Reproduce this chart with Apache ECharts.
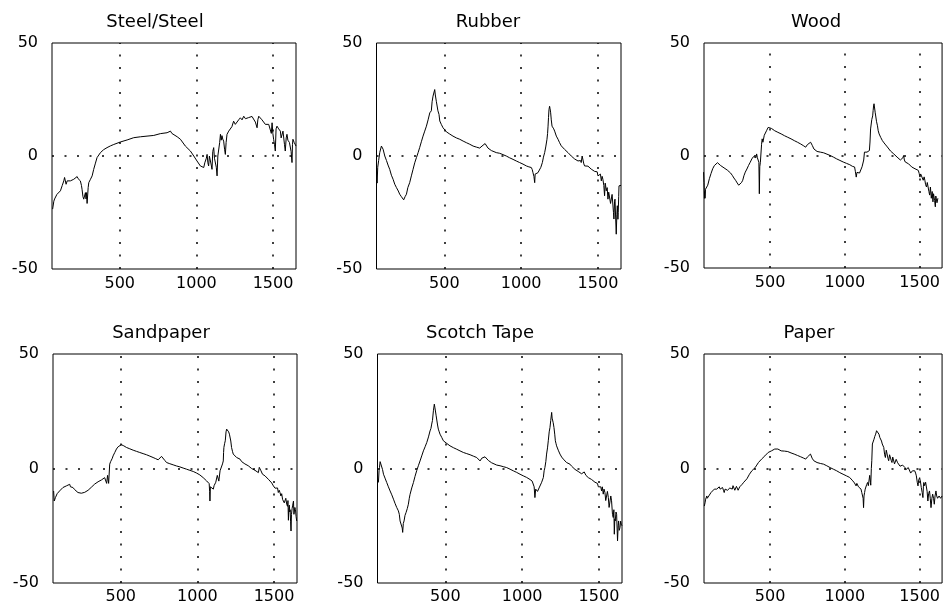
<!DOCTYPE html>
<html>
<head>
<meta charset="utf-8">
<script src="https://cdn.jsdelivr.net/npm/echarts@6/dist/echarts.min.js"></script>
<style>
html,body{margin:0;padding:0;background:#fff;}
#chart{width:943px;height:614px;}
</style>
</head>
<body>
<div id="chart"></div>
<script>
// ---- data (x = sample index, y = value) ----
const panelTitles = ["Steel/Steel", "Rubber", "Wood", "Sandpaper", "Scotch Tape", "Paper"];
const xTickLabels = [500, 1000, 1500];
const yTickLabels = [-50, 0, 50];
const xRange = [58, 1650];
const yRange = [-50, 50];

const steel = [[62,-23.5],[66,-24],[70,-20],[75,-19],[80,-18.4],[90,-17],[100,-16.5],[113,-15.4],[125,-13],[135,-11],[140,-9.5],[146,-8.8],[150,-12.5],[153,-13.2],[157,-11],[165,-11.5],[178,-11],[190,-10.5],[200,-10.3],[212,-9.5],[222,-9.1],[228,-10],[233,-10.3],[243,-11],[250,-13],[254,-14.7],[260,-18],[265,-19.1],[270,-19.9],[276,-16.2],[280,-19],[283,-16.2],[287,-21],[291,-20.6],[294,-14],[298,-11.8],[309,-10.3],[320,-8.8],[330,-5.9],[340,-3.5],[352,-0.7],[374,1.5],[395,2.8],[417,3.7],[440,4.5],[461,5.1],[504,6.2],[548,7.1],[591,8.1],[635,8.5],[678,8.8],[722,9.1],[765,9.9],[809,10.3],[820,10],[831,11],[840,10],[852,10],[875,8.5],[896,7.4],[928,4.4],[961,2.2],[983,0],[1004,-2.2],[1026,-4.4],[1048,-5.1],[1055,-3],[1059,-2.9],[1065,-1],[1070,0.7],[1075,-3],[1080,-4.4],[1085,0],[1091,0.7],[1097,-4],[1102,-5.9],[1107,2],[1113,3.7],[1118,-1],[1124,-0.7],[1130,-5],[1135,-8.8],[1140,0],[1146,0.7],[1152,6],[1157,9.6],[1162,7],[1167,9],[1172,7.5],[1178,6.6],[1184,3],[1189,0.7],[1194,6],[1200,9.6],[1211,11],[1222,11],[1232,13],[1243,15.4],[1254,14],[1265,14.7],[1276,16],[1287,16.9],[1298,16],[1309,17.6],[1320,16.5],[1330,16.5],[1341,17],[1352,16.9],[1363,17.5],[1374,17.6],[1385,15],[1396,12.5],[1401,16],[1407,17.6],[1417,16.9],[1428,16],[1439,15.4],[1450,14],[1461,14.7],[1472,14],[1483,13.2],[1489,10],[1494,14.7],[1499,10],[1504,7.4],[1510,5],[1515,2.2],[1520,12],[1526,13.2],[1537,12],[1548,11],[1553,8],[1559,7.4],[1565,11],[1570,10.3],[1575,5],[1580,2.2],[1586,8],[1591,9.6],[1597,7],[1602,7.4],[1607,6],[1613,5.9],[1618,2],[1624,-2.9],[1627,5],[1630,7.4],[1638,6],[1646,5.9],[1650,4.4]];

const rubber = [[57,-7.4],[62,-12],[66,-5],[72,-2],[79,1.5],[90,4.4],[95,4.4],[101,3],[112,0],[123,-2],[133,-4],[144,-5.9],[155,-8.5],[166,-10.3],[177,-12.5],[188,-14],[200,-15.5],[209,-16.9],[220,-18],[235,-19.4],[244,-18],[253,-16.9],[262,-14],[274,-11.8],[285,-8.8],[296,-5.9],[307,-3],[318,-0.7],[329,1.5],[339,3.7],[350,6.3],[361,8.8],[372,11],[383,13.2],[394,16],[405,19.1],[410,19.5],[415,20],[420,24],[426,26.5],[432,27],[437,29.4],[441,27],[444,26.5],[448,24],[452,23.5],[458,20],[465,18.4],[470,15.5],[480,14],[491,12.5],[513,10.7],[535,9.7],[556,8.8],[578,8],[600,7.4],[622,6.6],[643,5.9],[665,5.2],[687,4.4],[710,3.9],[730,3.5],[745,4.4],[752,4.7],[765,5.5],[773,5.1],[784,3.5],[795,3],[806,2.4],[817,1.9],[838,1.5],[860,1.2],[882,0.6],[903,0],[925,-0.8],[947,-1.5],[968,-2.2],[990,-2.9],[1012,-3.6],[1034,-4.4],[1050,-4.8],[1066,-5.1],[1072,-6],[1077,-7.4],[1083,-9],[1088,-11.8],[1091,-8],[1094,-8.1],[1100,-7.5],[1109,-7.4],[1120,-6.6],[1128,-5],[1138,-2.9],[1145,-0.5],[1153,1.5],[1160,4],[1168,7.4],[1172,10],[1175,13.2],[1178,17],[1181,20.5],[1185,22],[1188,21],[1192,19.1],[1196,16],[1201,13.2],[1207,12.5],[1212,12],[1218,11],[1229,8.8],[1240,7.4],[1250,5.9],[1261,4.5],[1272,3.7],[1283,2.9],[1294,2.2],[1305,1.5],[1316,0.7],[1326,0],[1337,-0.7],[1348,-1.3],[1359,-1.8],[1370,-2.2],[1380,-2.6],[1386,-2],[1391,-2.9],[1397,0],[1402,-0.3],[1408,-3.5],[1413,-4.4],[1424,-3.7],[1435,-4.5],[1446,-5.1],[1456,-5.8],[1467,-6.6],[1478,-6.8],[1489,-7.4],[1495,-7],[1500,-8.8],[1506,-8],[1511,-9.6],[1516,-8],[1522,-11],[1527,-9],[1532,-10.3],[1538,-13],[1543,-17.6],[1547,-12],[1550,-13.2],[1554,-15.4],[1560,-14],[1565,-19.1],[1570,-16],[1576,-16.2],[1582,-21],[1587,-20.6],[1592,-17],[1597,-17.6],[1601,-25],[1604,-27.9],[1608,-20],[1611,-19.1],[1615,-27],[1619,-34.6],[1623,-26],[1626,-22],[1630,-28],[1632,-25],[1635,-18],[1637,-13.2],[1642,-14],[1645,-13.2],[1650,-13]];

const wood = [[55,-7.4],[58,-12],[61,-19],[63,-16],[65,-19],[68,-15],[72,-14.7],[83,-13.2],[94,-10.3],[105,-8],[116,-5.9],[127,-4.5],[138,-3.7],[148,-3.2],[159,-3.2],[170,-4.5],[181,-5.1],[192,-5.5],[203,-6],[214,-6.5],[225,-7],[236,-7.8],[247,-8.8],[258,-10],[269,-11],[280,-12.2],[290,-13.2],[301,-14],[309,-12],[317,-11],[325,-9],[334,-7.4],[345,-6],[356,-4.4],[367,-3],[378,-1.5],[389,-0.5],[400,0],[405,-1],[410,0.7],[415,-1],[421,-0.7],[425,-3],[428,-17],[431,-5],[435,-3],[440,-3],[443,5],[447,7.4],[452,5.9],[456,5.9],[461,9],[465,9.6],[476,11],[487,12.5],[498,12.5],[510,12],[531,11],[552,10.3],[574,9.6],[596,8.8],[618,8.1],[640,7.4],[662,6.6],[683,5.9],[705,5.1],[722,4.4],[738,3.7],[749,4.8],[760,5.6],[771,5.9],[782,4.5],[793,2.9],[814,1.8],[836,1.5],[858,1.2],[880,0.6],[902,0],[923,-0.7],[945,-1.5],[967,-2.2],[989,-2.9],[1011,-3.5],[1033,-4.1],[1050,-4.8],[1065,-5.1],[1070,-7],[1076,-9.6],[1081,-7.5],[1087,-8],[1098,-7.8],[1109,-7.4],[1115,-5],[1120,-4.4],[1126,-2],[1131,1.5],[1137,2],[1142,0.7],[1148,1.5],[1153,1.5],[1158,2.2],[1164,2.2],[1168,6],[1172,11.8],[1175,12],[1180,16],[1186,17.6],[1189,20],[1192,22],[1195,23],[1199,22.8],[1203,19],[1207,18.4],[1212,15],[1218,13.2],[1223,11],[1229,9.6],[1240,8],[1251,6.6],[1262,5.6],[1273,4.7],[1284,3.8],[1295,3.2],[1305,2],[1316,1.5],[1327,0.7],[1338,0],[1349,-0.7],[1360,-1.5],[1371,-2],[1382,-2.6],[1388,-1],[1393,0],[1398,-2],[1404,-2.9],[1415,-3.3],[1426,-3.7],[1436,-4.4],[1447,-5.1],[1458,-5.5],[1469,-5.9],[1480,-6.2],[1491,-6.6],[1497,-8],[1502,-9.6],[1507,-8.2],[1513,-8.8],[1518,-10],[1524,-11],[1530,-9.5],[1535,-11],[1540,-13],[1546,-14],[1551,-12],[1557,-12.5],[1562,-16],[1567,-17.6],[1572,-14],[1578,-19],[1584,-16],[1589,-20.6],[1593,-17],[1596,-16.2],[1600,-20],[1605,-22.8],[1608,-18],[1611,-19],[1616,-21],[1622,-19]];

const sandpaper = [[62,-9.8],[66,-14.2],[69,-14.2],[74,-12.7],[79,-12],[85,-11],[90,-10.5],[101,-9.8],[112,-9],[123,-8.3],[134,-7.8],[145,-7.6],[156,-7],[167,-6.9],[172,-8],[178,-7.5],[188,-8.3],[199,-9.2],[210,-10],[221,-10.5],[232,-10.8],[243,-10.8],[254,-10.5],[265,-10.4],[276,-10.2],[287,-9.5],[297,-9],[308,-8.2],[319,-7.6],[330,-6.8],[341,-6.1],[352,-5.8],[363,-5.4],[374,-5],[385,-4.7],[395,-4],[402,-4],[408,-6.5],[411,-6.1],[414,-3],[417,-2.5],[421,-6.5],[424,-7],[428,1.9],[434,3],[439,3.5],[445,4.5],[450,5.5],[461,7],[472,8.5],[483,9.5],[493,9.9],[504,10.4],[520,9.9],[537,9.2],[559,8.6],[581,8],[602,7.5],[624,7],[646,6.5],[668,6],[690,5.4],[711,4.8],[728,4.3],[744,3.8],[755,4.5],[766,5.3],[777,4.8],[788,3.5],[799,2.6],[820,2.1],[842,1.6],[864,1.1],[886,0.7],[907,0.2],[929,-0.3],[951,-0.8],[973,-1.3],[995,-2],[1016,-2.8],[1038,-4],[1060,-5.4],[1070,-6],[1077,-6.6],[1080,-10],[1082,-14.2],[1085,-8],[1088,-7.6],[1096,-8.5],[1104,-9],[1109,-7.5],[1114,-7.6],[1120,-6],[1125,-6.1],[1130,-3],[1136,-2.5],[1140,-5.5],[1143,-5.4],[1148,-1],[1152,-0.3],[1158,-1],[1164,2],[1169,3.3],[1171,7],[1173,9.2],[1178,11],[1182,12.1],[1187,16],[1191,17.2],[1197,18],[1204,16],[1209,15],[1213,15.3],[1218,12],[1223,9.2],[1229,7.5],[1234,6.3],[1245,5.5],[1256,4.8],[1267,4.3],[1278,4.1],[1289,3],[1300,2.6],[1310,2],[1321,1.9],[1332,1.2],[1343,0.5],[1354,0],[1365,-0.3],[1376,-0.8],[1387,-1.4],[1398,-1.8],[1404,0.5],[1409,0.7],[1415,-1],[1420,-1],[1425,-2.5],[1430,-2.5],[1441,-3.2],[1452,-3.9],[1463,-4.7],[1474,-5.4],[1485,-6.3],[1496,-7.6],[1502,-7],[1507,-8.6],[1513,-8],[1518,-9.1],[1523,-8.5],[1528,-10.5],[1534,-9.5],[1539,-10.5],[1545,-12],[1550,-11],[1556,-13.5],[1561,-12.7],[1567,-15],[1572,-14.2],[1577,-13],[1583,-15.6],[1588,-16.5],[1591,-14],[1594,-22.6],[1597,-17],[1600,-16],[1603,-19],[1605,-18],[1608,-23],[1611,-27.3],[1614,-20],[1618,-17.5],[1622,-16],[1627,-14.2],[1630,-20],[1633,-20],[1636,-17],[1640,-17.9],[1644,-21],[1648,-22.9]];

const scotchTape = [[64,-6.1],[68,-1],[71,0.4],[75,3],[79,3.4],[85,2.6],[91,-0.5],[97,-2.5],[107,-4.2],[118,-6.1],[129,-8],[140,-9.8],[151,-11.5],[162,-13.4],[172,-15.2],[183,-17],[190,-17.5],[194,-18.5],[200,-20],[205,-22.9],[211,-23],[216,-23.5],[219,-26],[222,-27.9],[226,-24],[231,-22.9],[237,-20.5],[244,-19.2],[252,-17.5],[259,-15.6],[265,-13],[270,-11.3],[281,-8.5],[292,-6.1],[302,-3.5],[313,-1],[324,1.2],[335,3.3],[346,5.5],[357,7.7],[368,9.5],[379,11.4],[390,13.8],[400,16.4],[406,17.5],[411,19.4],[416,21],[422,25.2],[428,28.1],[432,26.5],[435,26.5],[440,23],[444,22.3],[449,19],[454,17.2],[460,16],[465,15],[476,13.6],[487,12.1],[508,11],[530,9.9],[552,9.1],[574,8.4],[595,7.7],[617,7],[639,6.5],[661,6],[682,5.4],[704,4.8],[715,4],[726,3.3],[737,4.5],[747,4.6],[758,5.1],[769,5.1],[780,3.5],[791,3.3],[801,2.5],[812,1.9],[834,1.5],[856,1.2],[877,0.8],[899,0.4],[921,-0.3],[942,-1],[964,-1.7],[986,-2.5],[1007,-3.2],[1029,-3.9],[1051,-4.8],[1065,-5.5],[1073,-6.1],[1078,-8],[1083,-12.7],[1088,-9],[1094,-8.3],[1100,-10],[1105,-9.8],[1110,-8.5],[1116,-8.3],[1127,-6],[1138,-3.9],[1143,-1],[1148,0.4],[1154,3],[1159,6.3],[1165,9],[1170,12.1],[1176,16],[1181,17.9],[1186,21],[1192,24.5],[1195,22],[1198,22.3],[1202,20],[1207,17.9],[1212,15],[1216,12.1],[1220,11],[1224,9.9],[1235,8],[1246,6.3],[1257,5],[1268,4.1],[1278,3.3],[1289,2.6],[1300,2],[1311,1.9],[1322,1],[1333,0.4],[1344,-0.4],[1355,-1],[1365,-1.3],[1376,-1.7],[1387,-2.3],[1398,-2.5],[1404,-1.5],[1409,-1],[1415,-3],[1420,-3.2],[1431,-4],[1441,-4.7],[1452,-4.8],[1463,-5.4],[1474,-6],[1480,-5.5],[1485,-6.8],[1490,-6.5],[1496,-8],[1501,-7.5],[1506,-8.3],[1512,-8],[1517,-9.8],[1522,-8],[1528,-11.2],[1533,-9],[1539,-10.5],[1544,-14],[1550,-14.1],[1555,-10],[1561,-12.7],[1566,-17],[1572,-16.9],[1577,-12],[1582,-14.1],[1588,-20],[1593,-21.4],[1597,-18],[1600,-28.7],[1603,-22],[1606,-22.9],[1611,-19],[1615,-20],[1618,-26],[1621,-31.6],[1625,-25],[1628,-22.9],[1632,-27],[1637,-25.8],[1641,-23],[1645,-24.3],[1650,-25]];

const paper = [[60,-16.4],[65,-15],[69,-13.4],[73,-13],[77,-12],[80,-13],[84,-13.4],[90,-12],[95,-11.2],[105,-10.5],[116,-9.8],[127,-9],[138,-8.3],[143,-9],[149,-9.8],[155,-8.5],[160,-8],[166,-9],[171,-9],[177,-8.2],[182,-8.3],[188,-9.5],[193,-10.5],[199,-9],[204,-9],[215,-9.5],[225,-9.8],[231,-8.5],[236,-8.3],[242,-9],[247,-9],[252,-7.5],[258,-7.6],[264,-9.5],[269,-9.8],[275,-7.8],[280,-7.6],[286,-9.5],[291,-10.1],[297,-8],[302,-7.6],[313,-6.9],[324,-6],[334,-5.4],[345,-4.5],[356,-3.9],[362,-2.5],[367,-1.8],[378,-1],[389,-0.3],[400,0.4],[411,1.5],[422,2.6],[433,3.4],[443,4.1],[454,4.8],[465,5.5],[476,6.2],[487,7],[498,7.4],[509,7.7],[520,8.1],[531,8.5],[541,9.2],[552,8.5],[563,8],[574,7.7],[596,7.6],[618,7.4],[640,6.8],[661,6.3],[683,5.7],[705,5.1],[722,4.6],[738,4.1],[749,5],[759,5.5],[770,6.3],[781,4.5],[792,3.4],[803,2.9],[814,2.6],[836,2.2],[857,1.9],[879,1.2],[901,0.4],[923,-0.3],[945,-1],[966,-1.8],[988,-2.5],[1010,-3.2],[1032,-3.9],[1042,-4.5],[1053,-5.4],[1064,-6.3],[1075,-7.6],[1080,-6.5],[1086,-6.1],[1091,-8],[1097,-8.3],[1102,-7.5],[1108,-9],[1113,-10.5],[1119,-11.2],[1122,-13],[1125,-17.1],[1128,-12],[1132,-10.5],[1136,-9],[1141,-8.3],[1146,-7],[1152,-6.1],[1157,-7.5],[1162,-6.9],[1166,-3],[1169,-2.5],[1171,-6],[1173,-7.3],[1177,0],[1180,3.4],[1184,10.7],[1190,11.5],[1195,12.8],[1200,14],[1206,15],[1212,16.5],[1217,17.2],[1222,16],[1228,15],[1234,13.5],[1239,12.8],[1245,12],[1250,10.7],[1255,10],[1260,9.2],[1266,6],[1271,4.8],[1277,8],[1282,8.2],[1288,4.5],[1293,3.4],[1299,6],[1304,6.3],[1310,3.5],[1315,2.6],[1320,5],[1326,4.8],[1332,2],[1337,1.9],[1343,4],[1348,4.1],[1353,2.5],[1358,1.9],[1369,1],[1380,0.4],[1386,1.5],[1391,1.9],[1397,1],[1402,0.4],[1408,-0.5],[1413,-1],[1419,0],[1424,0.4],[1430,1],[1435,1.2],[1440,-2],[1446,-2.5],[1452,-1],[1457,-0.3],[1462,-1],[1467,-1],[1473,-2],[1478,-3.2],[1484,-6],[1489,-7.6],[1494,-5],[1500,-4],[1506,-6],[1511,-8.3],[1517,-10.5],[1522,-12.7],[1525,-8],[1528,-6.1],[1533,-7.5],[1537,-8.3],[1540,-6],[1544,-5.4],[1550,-10],[1555,-14.2],[1560,-11],[1566,-9.8],[1571,-13],[1576,-17.1],[1582,-13],[1587,-11.2],[1593,-13],[1598,-15.6],[1603,-12],[1609,-9.8],[1614,-12],[1620,-13],[1630,-12],[1640,-13],[1650,-12]];

const seriesData = [steel, rubber, wood, sandpaper, scotchTape, paper];

// ---- layout ----
const gridBoxes = [
  {left: 52,  top: 43,  width: 244, height: 226},
  {left: 376.5, top: 43, width: 244.5, height: 226},
  {left: 704, top: 43,  width: 245, height: 225},
  {left: 53,  top: 354, width: 244, height: 229},
  {left: 377.5, top: 354, width: 244.5, height: 229},
  {left: 704, top: 354, width: 245, height: 229}
];
const titleCenters = [[155, 13], [488, 13], [816, 13], [161, 324], [480, 324], [809, 324]];

const FONT = "DejaVu Sans";
const chart = echarts.init(document.getElementById('chart'), null, {renderer: 'canvas'});

const option = {
  backgroundColor: '#fff',
  animation: false,
  title: panelTitles.map((t, i) => ({
    text: t,
    left: titleCenters[i][0],
    top: titleCenters[i][1],
    textAlign: 'center',
    padding: 0,
    textStyle: {fontFamily: FONT, fontSize: 18, fontWeight: 'normal', color: '#000', lineHeight: 18}
  })),
  grid: gridBoxes.map(g => Object.assign({show: true, borderColor: '#000', borderWidth: 1, backgroundColor: 'transparent', containLabel: false}, g)),
  xAxis: gridBoxes.map((g, i) => ({
    type: 'value', gridIndex: i, min: xRange[0], max: xRange[1],
    axisLine: {show: false}, axisTick: {show: false}, splitLine: {show: false},
    axisLabel: {customValues: xTickLabels, margin: i < 3 ? 7 : 6,
      formatter: v => String(v),
      fontFamily: FONT, fontSize: 16, color: '#000'}
  })),
  yAxis: gridBoxes.map((g, i) => ({
    type: 'value', gridIndex: i, min: yRange[0], max: yRange[1], interval: 50,
    axisLine: {show: false}, axisTick: {show: false}, splitLine: {show: false},
    axisLabel: {customValues: yTickLabels, margin: 14, formatter: v => String(v),
      fontFamily: FONT, fontSize: 16, color: '#000'}
  })),
  series: seriesData.map((d, i) => ({
    type: 'line', name: panelTitles[i], xAxisIndex: i, yAxisIndex: i,
    data: d, showSymbol: false, symbol: 'none', smooth: false,
    lineStyle: {color: '#000', width: 1},
    clip: true,
    markLine: {
      silent: true, symbol: 'none', animation: false,
      label: {show: false},
      lineStyle: {color: '#000', width: 1.5, type: [2, 10.5]},
      data: xTickLabels.map(v => ({xAxis: v})).concat([{yAxis: 0}])
    }
  }))
};
chart.setOption(option);
</script>
</body>
</html>
